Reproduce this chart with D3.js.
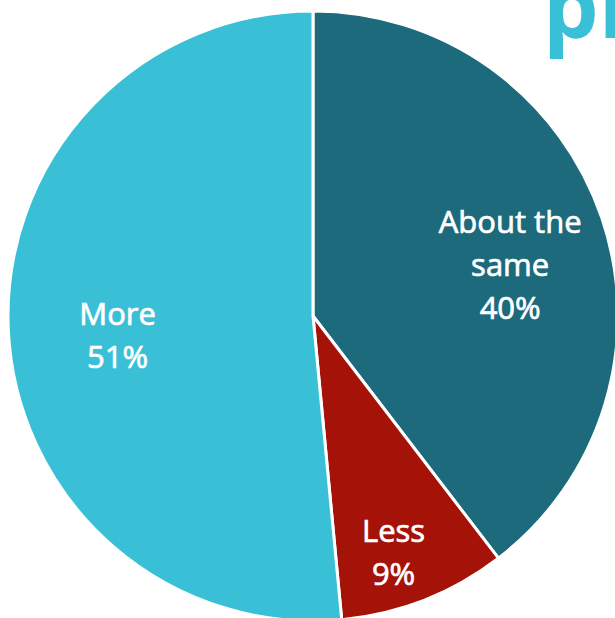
<!DOCTYPE html>
<html>
<head>
<meta charset="utf-8">
<script src="https://cdn.jsdelivr.net/npm/d3@7"></script>
<style>
  html, body { margin: 0; padding: 0; background: #ffffff; overflow: hidden; }
  svg { display: block; }
</style>
</head>
<body>
<svg id="chart" width="615" height="618"></svg>
<script>
// ---- data ----
const categories = ["About the same", "Less", "More"];
const values = [39.6, 8.9, 51.5];
const labelLines = [["About the", "same", "40%"], ["Less", "9%"], ["More", "51%"]];
const colors = ["#1c6a7b", "#a41208", "#39c0d7"];

// ---- layout ----
const W = 615, H = 618;
const cx = 313, cy = 316, R = 305;
const labelRadiusFactor = [0.665, 0.83, 0.645];
const labelAngleShift = [0.09, 0.05, -0.07];
const lineH = 43;

const svg = d3.select("#chart");

// logo fragment top-right
svg.append("text")
  .attr("x", 543)
  .attr("y", 38)
  .attr("font-family", "'Open Sans', sans-serif")
  .attr("font-weight", 700)
  .attr("font-size", 88)
  .attr("fill", "#39c0d7")
  .text("pr");

const g = svg.append("g").attr("transform", `translate(${cx},${cy})`);

const pie = d3.pie().sort(null).value(d => d)(values);
const arc = d3.arc().innerRadius(0).outerRadius(R);

g.selectAll("path.slice")
  .data(pie)
  .join("path")
  .attr("class", "slice")
  .attr("d", arc)
  .attr("fill", (d, i) => colors[i])
  .attr("stroke", "#ffffff")
  .attr("stroke-width", 3)
  .attr("stroke-linejoin", "round");

const labels = g.selectAll("g.lab")
  .data(pie)
  .join("g")
  .attr("class", "lab")
  .attr("transform", (d, i) => {
    const a = (d.startAngle + d.endAngle) / 2 + labelAngleShift[i];
    const r = R * labelRadiusFactor[i];
    return `translate(${r * Math.sin(a)},${-r * Math.cos(a)})`;
  });

labels.each(function(d, i) {
  const lines = labelLines[i];
  const n = lines.length;
  d3.select(this).selectAll("text")
    .data(lines)
    .join("text")
    .attr("text-anchor", "middle")
    .attr("x", 0)
    .attr("y", (t, j) => (j - (n - 1) / 2) * lineH + 8)
    .attr("font-family", "'Open Sans', sans-serif")
    .attr("font-size", 31)
    .attr("fill", "#ffffff")
    .attr("stroke", "#ffffff")
    .attr("stroke-width", 0.7)
    .text(t => t);
});
</script>
</body>
</html>
